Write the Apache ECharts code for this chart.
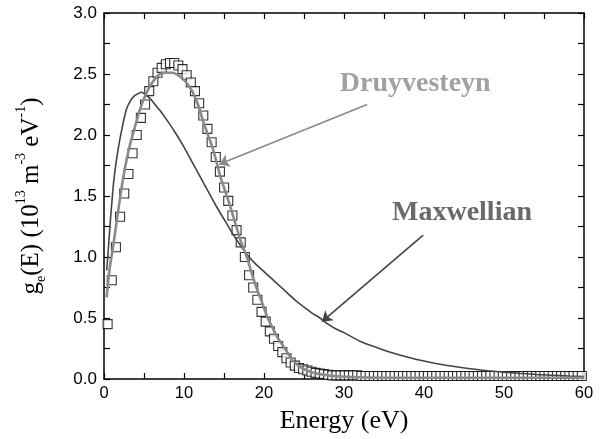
<!DOCTYPE html>
<html>
<head>
<meta charset="utf-8">
<script src="https://cdn.jsdelivr.net/npm/echarts@6/dist/echarts.min.js"></script>
<style>html,body{margin:0;padding:0;background:#fff}#c{width:605px;height:439px}</style>
</head>
<body>
<div id="c"></div>
<script>
// Experimental points (squares): energy (eV) and g_e (10^13 m^-3 eV^-1)
var expEnergy = [0.45,0.97,1.49,2.01,2.53,3.05,3.57,4.09,4.61,5.13,5.65,6.17,6.69,7.21,7.73,8.25,8.77,9.29,9.81,10.33,
  10.85,11.37,11.89,12.41,12.93,13.45,13.97,14.49,15.01,15.53,16.05,16.57,17.09,17.61,18.13,18.65,19.17,19.69,20.21,20.73,
  21.25,21.77,22.29,22.81,23.33,23.85,24.37,24.89,25.41,25.93,26.45,26.97,27.49,28.01,28.53,29.05,29.57,30.09,30.61,31.13,
  31.65,32.17,32.69,33.21,33.73,34.25,34.77,35.29,35.81,36.33,36.85,37.37,37.89,38.41,38.93,39.45,39.97,40.49,41.01,41.53,
  42.05,42.57,43.09,43.61,44.13,44.65,45.17,45.69,46.21,46.73,47.25,47.77,48.29,48.81,49.33,49.85,50.37,50.89,51.41,51.93,
  52.45,52.97,53.49,54.01,54.53,55.05,55.57,56.09,56.61,57.13,57.65,58.17,58.69,59.21,59.73];
var expValue = [0.45,0.81,1.08,1.33,1.52,1.68,1.85,2.00,2.14,2.25,2.36,2.44,2.51,2.55,2.58,2.59,2.59,2.57,2.54,2.49,
  2.43,2.36,2.26,2.16,2.05,1.94,1.82,1.70,1.57,1.46,1.34,1.22,1.12,1.00,0.85,0.75,0.65,0.55,0.47,0.39,
  0.33,0.27,0.22,0.17,0.135,0.11,0.09,0.08,0.07,0.06,0.05,0.045,0.04,0.035,0.03,0.03,0.03,0.03,0.03,0.03,
  0.03,0.025,0.025,0.025,0.025,0.025,0.025,0.025,0.025,0.025,0.025,0.025,0.025,0.025,0.025,0.025,0.025,0.025,0.025,0.025,
  0.025,0.025,0.025,0.025,0.025,0.025,0.025,0.025,0.025,0.025,0.025,0.025,0.025,0.025,0.025,0.025,0.025,0.025,0.025,0.025,
  0.025,0.025,0.025,0.025,0.025,0.025,0.025,0.025,0.025,0.025,0.025,0.025,0.025,0.025,0.025];

// Maxwellian fit curve
var maxEnergy = [0.33,0.42,0.6,0.8,1.0,1.17,1.5,2.0,2.4,2.8,3.3,3.8,4.3,4.7,5.2,5.75,6,7,8,9,
  10,11,12,13,14,15,16,17,18,19,20,21,22,23,24,25,26,27,28,29,
  30,32,34,36,38,40,42,44,46,48,50,52,54,56,58,60];
var maxValue = [0.89,0.96,1.12,1.30,1.46,1.59,1.77,1.97,2.10,2.21,2.28,2.32,2.34,2.35,2.33,2.30,2.28,2.20,2.11,2.01,
  1.90,1.78,1.66,1.54,1.42,1.31,1.20,1.10,1.01,0.94,0.88,0.82,0.76,0.70,0.64,0.59,0.54,0.50,0.45,0.41,
  0.38,0.31,0.26,0.215,0.178,0.147,0.121,0.100,0.082,0.068,0.056,0.046,0.037,0.031,0.025,0.021];

// Druyvesteyn fit curve
var druEnergy = [0.33,0.7,1.17,1.6,2.0,2.4,2.83,3.25,3.67,4.5,5.0,5.75,6.5,7.0,7.9,8.5,9.5,10.3,11.1,11.8,
  12.4,13.0,13.6,14.1,14.5,15.1,15.75,16.4,17.0,17.9,18.5,19.1,19.8,20.4,21.0,21.6,22.3,22.9,23.6,24.5,
  25.75,27.0,28.0,29.5,31,35,40,50,60];
var druValue = [0.67,0.90,1.10,1.30,1.48,1.65,1.80,1.92,2.02,2.21,2.30,2.40,2.47,2.50,2.51,2.51,2.48,2.43,2.35,2.24,
  2.11,2.00,1.89,1.77,1.67,1.55,1.42,1.28,1.15,0.99,0.86,0.74,0.62,0.51,0.43,0.35,0.28,0.22,0.15,0.10,
  0.06,0.04,0.03,0.02,0.015,0.01,0.01,0.01,0.01];

// Annotation labels and arrows (data units)
var labelNames = ['Druyvesteyn', 'Maxwellian'];
var labelPos = [[38.9, 2.42], [44.75, 1.365]];
var arrowFrom = [[32.9, 2.25], [39.9, 1.18]];
var arrowTo = [[14.4, 1.76], [27.25, 0.47]];

var colDru = '#8a8a8a', colMax = '#444444';

function pairs(xs, ys){ return xs.map(function(x,i){ return [x, ys[i]]; }); }

var chart = echarts.init(document.getElementById('c'), null, {renderer:'canvas'});
var axisCommon = {
  type:'value',
  axisLine:{show:true, onZero:false, lineStyle:{color:'#000', width:1.5}},
  axisTick:{show:true, inside:true, length:6, lineStyle:{color:'#000', width:1.2}},
  minorTick:{show:true, splitNumber:2, length:6, lineStyle:{color:'#000', width:1.2}},
  splitLine:{show:false}, minorSplitLine:{show:false}
};
function ax(extra){ return Object.assign({}, JSON.parse(JSON.stringify(axisCommon)), extra); }

chart.setOption({
  animation:false,
  backgroundColor:'#fff',
  grid:{left:104, right:21, top:13, bottom:57, containLabel:false},
  xAxis:[
    ax({position:'bottom', min:0, max:60, interval:10,
      axisLabel:{show:true, margin:6, fontFamily:'Liberation Sans', fontSize:16.5, color:'#000'},
      name:'Energy (eV)', nameLocation:'middle', nameGap:29,
      nameTextStyle:{fontFamily:'Liberation Serif', fontSize:26, color:'#000'}}),
    ax({position:'top', min:0, max:60, interval:10, axisLabel:{show:false}})
  ],
  yAxis:[
    ax({position:'left', min:0, max:3, interval:0.5,
      axisLabel:{show:true, margin:7, fontFamily:'Liberation Sans', fontSize:17, color:'#000',
        formatter:function(v){ return v.toFixed(1); }},
      name:'{n|g}{sub|e}{n|(E) (10}{sup|13}{n| m}{sup|-3}{n| eV}{sup|-1}{n|)}',
      nameLocation:'middle', nameGap:56, nameRotate:90,
      nameTextStyle:{fontFamily:'Liberation Serif', fontSize:25, color:'#000',
        rich:{
          n:{fontFamily:'Liberation Serif', fontSize:25, color:'#000', lineHeight:34},
          sub:{fontFamily:'Liberation Serif', fontSize:14, color:'#000', verticalAlign:'bottom', lineHeight:34},
          sup:{fontFamily:'Liberation Serif', fontSize:14, color:'#000', verticalAlign:'top', lineHeight:34}
        }}}),
    ax({position:'right', min:0, max:3, interval:0.5, axisLabel:{show:false}})
  ],
  series:[
    {type:'scatter', name:'Experiment', data:pairs(expEnergy, expValue), symbol:'rect', symbolSize:9,
      itemStyle:{color:'#fff', borderColor:'#000', borderWidth:1.1}, z:2, silent:true},
    {type:'line', name:'Maxwellian', data:pairs(maxEnergy, maxValue), showSymbol:false, smooth:0.3,
      lineStyle:{color:colMax, width:1.6}, z:3, silent:true,
      markLine:{silent:true, symbol:['none','arrow'], symbolSize:10, label:{show:false},
        animation:false,
        data:arrowFrom.map(function(f,i){
          var c = i===0 ? colDru : colMax;
          return [{coord:f, lineStyle:{color:c, width:1.6, type:'solid'}, itemStyle:{color:c}},
                  {coord:arrowTo[i], lineStyle:{color:c, width:1.6, type:'solid'}, itemStyle:{color:c}}];
        })}},
    {type:'line', name:'Druyvesteyn', data:pairs(druEnergy, druValue), showSymbol:false, smooth:0.3,
      lineStyle:{color:colDru, width:2.6}, z:4, silent:true},
    {type:'scatter', name:'labels', symbolSize:1, itemStyle:{color:'rgba(0,0,0,0)'}, z:5, silent:true,
      data:labelNames.map(function(n,i){
        return {name:n, value:labelPos[i], label:{show:true, position:'inside', formatter:'{b}',
          fontFamily:'Liberation Serif', fontWeight:'bold', fontSize:28, color: i===0 ? colDru : colMax}};
      })}
  ]
});
</script>
</body>
</html>
